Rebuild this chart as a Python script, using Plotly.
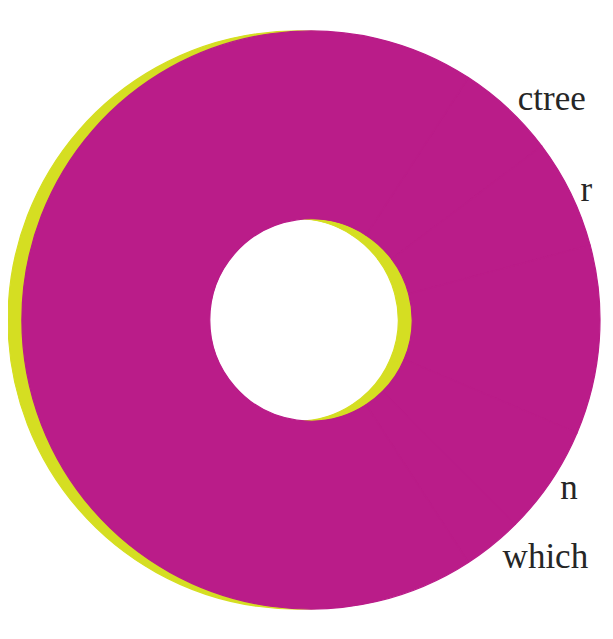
import plotly.graph_objects as go

# data
categories = ["ctree", "r", "glm", "n", "which", "lda"]
values = [20, 22, 38, 22, 12, 246]
label_shown = [True, True, False, True, True, False]

# layout constants (figure sized so that the page, with the browser's
# default 8px body margin, is exactly 613 x 639)
W, H = 597, 623
CX, CY, R = 305.5, 312.0, 291.5   # figure pixels
SHIFT = 14.0
HOLE = 0.35
MAGENTA = "#BA1C89"
LIME = "#D5DE22"


def domain(cx, cy, r):
    return dict(
        x=[max(0.0, (cx - r) / W), min(1.0, (cx + r) / W)],
        y=[max(0.0, (H - (cy + r)) / H), min(1.0, (H - (cy - r)) / H)],
    )


common = dict(
    labels=categories,
    values=values,
    sort=False,
    direction="clockwise",
    rotation=33,
    hole=HOLE,
    showlegend=False,
    hoverinfo="skip",
)

shadow = go.Pie(
    **common,
    domain=domain(CX - SHIFT, CY, R),
    marker=dict(colors=[LIME] * len(categories), line=dict(width=1.2, color=LIME)),
    textinfo="none",
)

main = go.Pie(
    **common,
    domain=domain(CX, CY, R),
    marker=dict(colors=[MAGENTA] * len(categories), line=dict(width=1.2, color=MAGENTA)),
    textinfo="label",
    textposition=["outside" if s else "none" for s in label_shown],
    outsidetextfont=dict(family="Liberation Serif", size=35, color="#262626"),
)

fig = go.Figure([shadow, main])
fig.update_layout(
    width=W,
    height=H,
    margin=dict(l=0, r=0, t=0, b=0),
    paper_bgcolor="white",
    plot_bgcolor="white",
)
fig.write_html("out.html")
